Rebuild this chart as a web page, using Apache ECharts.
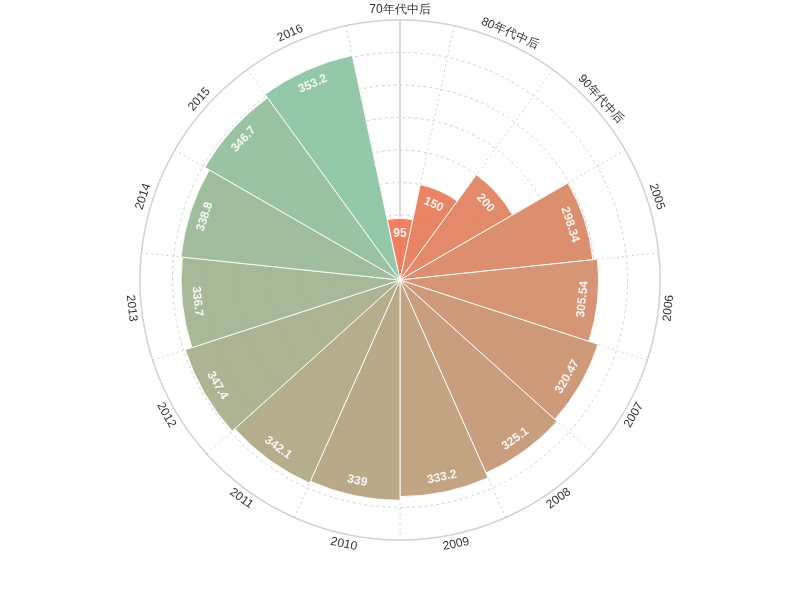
<!DOCTYPE html>
<html>
<head>
<meta charset="utf-8">
<script src="https://cdn.jsdelivr.net/npm/echarts@6/dist/echarts.min.js"></script>
<style>html,body{margin:0;padding:0;background:#fff}#main{width:800px;height:600px}</style>
</head>
<body>
<div id="main"></div>
<script>
const categories = ['70年代中后','80年代中后','90年代中后','2005','2006','2007','2008','2009','2010','2011','2012','2013','2014','2015','2016'];
const values = [95,150,200,298.34,305.54,320.47,325.1,333.2,339,342.1,347.4,336.7,338.8,346.7,353.2];
const radiusMax = 400;
const radiusStep = 50;

const startColor = [238,114,78];
const endColor = [135,194,158];
function barColor(i){
  const t = i/(categories.length-1);
  const c = startColor.map((s,k)=>Math.round(s+(endColor[k]-s)*t));
  return 'rgb('+c.join(',')+')';
}
const bandDeg = 360/categories.length;
// readable tangential rotation (degrees, CCW positive) for category i
function tangentRot(i){
  let r = (90 - bandDeg*i) - 90;
  while (r > 90) r -= 180;
  while (r < -90) r += 180;
  return r;
}

const chart = echarts.init(document.getElementById('main'), null, {renderer:'canvas'});
chart.setOption({
  animation:false,
  polar:[
    {center:[400,280], radius:[0,260]},
    {center:[400,280], radius:[0,260]}
  ],
  angleAxis:[
    {
      polarIndex:0,
      type:'category',
      data:categories,
      startAngle:90+bandDeg/2,
      boundaryGap:true,
      axisLine:{show:true,lineStyle:{color:'#d4d4d4',width:1.5}},
      axisTick:{show:false},
      axisLabel:{show:false},
      splitLine:{show:true,lineStyle:{color:'#d0d0d0',type:[2,3]}}
    },
    {
      polarIndex:1,
      type:'category',
      data:categories,
      startAngle:90,
      show:false
    }
  ],
  radiusAxis:[
    {
      polarIndex:0,
      type:'value',
      min:0,max:radiusMax,interval:radiusStep,
      axisLine:{show:false},
      axisTick:{show:false},
      axisLabel:{show:false},
      splitLine:{show:true,lineStyle:{color:'#d0d0d0',type:[3,3]}}
    },
    {
      polarIndex:1,
      type:'value',
      min:0,max:radiusMax,interval:radiusStep,
      z:1,
      axisLine:{show:true,lineStyle:{color:'#d8d8d8',width:2}},
      axisTick:{show:false},
      axisLabel:{show:false},
      splitLine:{show:false}
    }
  ],
  series:[{
    type:'bar',
    coordinateSystem:'polar',
    polarIndex:0,
    data:values.map((v,i)=>({value:v,label:{rotate:tangentRot(i)*Math.PI/180}})),
    barCategoryGap:'0%',
    z:3,
    itemStyle:{
      color:function(p){return barColor(p.dataIndex);},
      borderColor:'#fff',borderWidth:1,opacity:0.9
    },
    label:{
      show:true,position:'insideEnd',distance:15,align:'center',verticalAlign:'middle',
      color:'#fff',fontWeight:'bold',fontSize:12,fontFamily:'sans-serif'
    }
  }]
});

// angle-axis category labels, placed just outside the outer circle, rotated tangentially
const labelRadius = radiusMax * 270 / 260;
const graphics = categories.map((c,i)=>{
  const p = chart.convertToPixel({polarIndex:0},[labelRadius, i]);
  return {
    type:'text', x:p[0], y:p[1], rotation:tangentRot(i)*Math.PI/180,
    style:{text:c, align:'center', verticalAlign:'middle', fill:'#333', font:'12px sans-serif'}
  };
});
chart.setOption({graphic:graphics});
</script>
</body>
</html>
